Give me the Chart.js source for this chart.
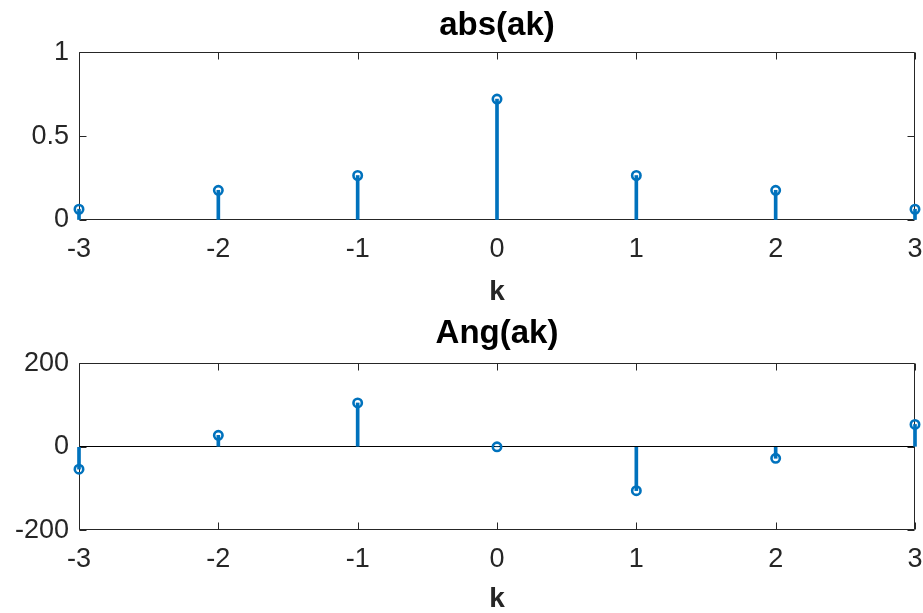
<!DOCTYPE html>
<html>
<head>
<meta charset="utf-8">
<script src="https://cdn.jsdelivr.net/npm/chart.js@4.4.0/dist/chart.umd.min.js"></script>
<style>
    body { margin: 0; background: #fff; overflow: hidden; }
    .panel { position: absolute; left: 0; }
</style>
</head>
<body>
<div class="panel" style="top:0"><canvas id="absChart" width="923" height="310"></canvas></div>
<div class="panel" style="top:310px"><canvas id="angChart" width="923" height="306"></canvas></div>
<script>
const kValues = [-3, -2, -1, 0, 1, 2, 3];
const absValues = [0.064, 0.177, 0.265, 0.72, 0.265, 0.177, 0.064];
const angValues = [-53.5, 27.5, 105, 0, -105, -27.5, 53.5];

const stemColor = '#0072BD';
const axisColor = '#262626';
const fontFamily = "'Liberation Sans', Arial, sans-serif";

// box around the plot area with inward ticks on all four sides
const boxTicks = {
    id: 'boxTicks',
    beforeDatasetsDraw(chart) {
        const { ctx, chartArea: a, scales } = chart;
        const len = 7;
        ctx.save();
        ctx.strokeStyle = axisColor;
        ctx.lineWidth = 1;
        ctx.beginPath();
        const l = Math.round(a.left) + 0.5, r = Math.round(a.right) - 0.5;
        const t = Math.round(a.top) + 0.5, b = Math.round(a.bottom) - 0.5;
        ctx.rect(l, t, r - l, b - t);
        scales.x.ticks.forEach(tick => {
            const px = Math.round(scales.x.getPixelForValue(tick.value)) + 0.5;
            ctx.moveTo(px, b); ctx.lineTo(px, b - len);
            ctx.moveTo(px, t); ctx.lineTo(px, t + len);
        });
        scales.y.ticks.forEach(tick => {
            const py = Math.round(scales.y.getPixelForValue(tick.value)) + 0.5;
            ctx.moveTo(l, py); ctx.lineTo(l + len, py);
            ctx.moveTo(r, py); ctx.lineTo(r - len, py);
        });
        ctx.stroke();
        ctx.restore();
    }
};

function stemData(values) {
    return kValues.map((k, i) => ({ x: k, y: values[i] }));
}

function makeStemChart(canvasId, title, values, yMin, yMax, yStep, layout) {
    const ctx = document.getElementById(canvasId).getContext('2d');
    return new Chart(ctx, {
        data: {
            datasets: [{
                type: 'bar',
                data: stemData(values),
                backgroundColor: stemColor,
                borderWidth: 0,
                barThickness: 3,
                clip: false,
            }, {
                type: 'scatter',
                data: stemData(values),
                pointRadius: 4.2,
                pointBorderWidth: 2.6,
                pointBorderColor: stemColor,
                pointBackgroundColor: 'rgba(255,255,255,0)',
                clip: false,
            }],
        },
        options: {
            responsive: false,
            animation: false,
            layout: { padding: { left: 0, right: 8, top: 0, bottom: 0 } },
            plugins: {
                legend: { display: false },
                tooltip: { enabled: false },
                title: {
                    display: true,
                    fullSize: false,
                    text: title,
                    color: '#000',
                    font: { family: fontFamily, size: 33, weight: 'bold' },
                    padding: { top: layout.titleTop, bottom: layout.titleBottom },
                },
            },
            scales: {
                x: {
                    type: 'linear',
                    min: -3,
                    max: 3,
                    offset: false,
                    grid: { display: false, drawTicks: false },
                    border: { display: false },
                    ticks: {
                        stepSize: 1,
                        padding: 13,
                        color: axisColor,
                        font: { family: fontFamily, size: 27 },
                    },
                    title: {
                        display: true,
                        text: 'k',
                        color: axisColor,
                        font: { family: fontFamily, size: 28, weight: 'bold' },
                        padding: { top: 0, bottom: layout.kBottom },
                    },
                    afterFit(scale) {
                        scale.height = layout.xHeight;
                        scale.paddingRight = 0;
                    },
                },
                y: {
                    min: yMin,
                    max: yMax,
                    grid: {
                        drawTicks: false,
                        color: c => (c.tick && c.tick.value === 0 && yMin < 0) ? '#000' : 'rgba(0,0,0,0)',
                    },
                    border: { display: false },
                    ticks: {
                        stepSize: yStep,
                        padding: 10,
                        color: axisColor,
                        font: { family: fontFamily, size: 27 },
                        callback: value => String(value),
                    },
                    afterFit(scale) { scale.width = 79; },
                },
            },
        },
        plugins: [boxTicks],
    });
}

makeStemChart('absChart', 'abs(ak)', absValues, 0, 1, 0.5,
    { titleTop: 6, titleBottom: 6.5, xHeight: 90, kBottom: 1 });
makeStemChart('angChart', 'Ang(ak)', angValues, -200, 200, 200,
    { titleTop: 4, titleBottom: 9.7, xHeight: 85.7, kBottom: 0 });
</script>
</body>
</html>
